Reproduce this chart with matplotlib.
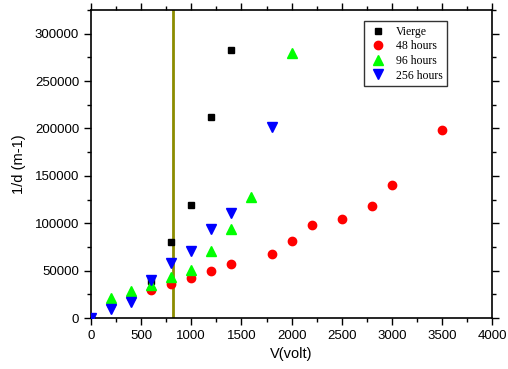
import matplotlib
matplotlib.use("Agg")
import matplotlib.pyplot as plt
from matplotlib.ticker import MultipleLocator

vierge_x = [0, 600, 800, 1000, 1200, 1400]
vierge_y = [0, 39000, 80000, 119000, 212000, 283000]

h48_x = [200, 400, 600, 800, 1000, 1200, 1400, 1800, 2000, 2200, 2500, 2800, 3000, 3500]
h48_y = [15000, 22000, 30000, 36000, 42000, 50000, 57000, 68000, 81000, 98000, 104000, 118000, 140000, 198000]

h96_x = [0, 200, 400, 600, 800, 1000, 1200, 1400, 1600, 2000]
h96_y = [0, 21000, 29000, 35000, 43000, 51000, 71000, 94000, 128000, 280000]

h256_x = [0, 200, 400, 600, 800, 1000, 1200, 1400, 1800]
h256_y = [0, 9500, 17000, 40000, 58000, 70500, 94000, 111000, 202000]

vline_x = 820

plt.rcParams['font.family'] = ['Liberation Sans', 'DejaVu Sans']
fig = plt.figure(figsize=(5.08, 3.69), dpi=100)
ax = fig.add_axes([0.179, 0.138, 0.790, 0.835])

ax.axvline(vline_x, color='#8C8C00', lw=2, zorder=1)
ax.plot(vierge_x, vierge_y, ls='none', marker='s', color='black', ms=5, label='Vierge', zorder=3)
ax.plot(h48_x, h48_y, ls='none', marker='o', color='#FF0000', ms=6, label='48 hours', zorder=3)
ax.plot(h96_x, h96_y, ls='none', marker='^', color='#00FF00', ms=7, label='96 hours', zorder=3)
ax.plot(h256_x, h256_y, ls='none', marker='v', color='#0000FF', ms=7, label='256 hours', zorder=3)

ax.set_xlim(0, 4000)
ax.set_ylim(0, 325000)
ax.xaxis.set_major_locator(MultipleLocator(500))
ax.xaxis.set_minor_locator(MultipleLocator(250))
ax.yaxis.set_major_locator(MultipleLocator(50000))
ax.yaxis.set_minor_locator(MultipleLocator(25000))
ax.tick_params(which='both', direction='out', top=True, right=True, labelsize=9.5, width=1)
ax.tick_params(which='major', length=5)
ax.tick_params(which='minor', length=3)
for s in ax.spines.values():
    s.set_linewidth(1.2)

ax.set_xlabel('V(volt)', fontsize=10.5, labelpad=4)
ax.set_ylabel('1/d (m-1)', fontsize=10.5, labelpad=6)

leg = ax.legend(loc='upper right', bbox_to_anchor=(0.888, 0.964), frameon=True, fancybox=False,
                edgecolor='black', prop={'family': 'Liberation Serif', 'size': 8.5},
                handletextpad=0.8, borderpad=0.4, labelspacing=0.22, handlelength=1.5,
                borderaxespad=0)
leg.get_frame().set_linewidth(1)

fig.savefig('out.png', dpi=100)
